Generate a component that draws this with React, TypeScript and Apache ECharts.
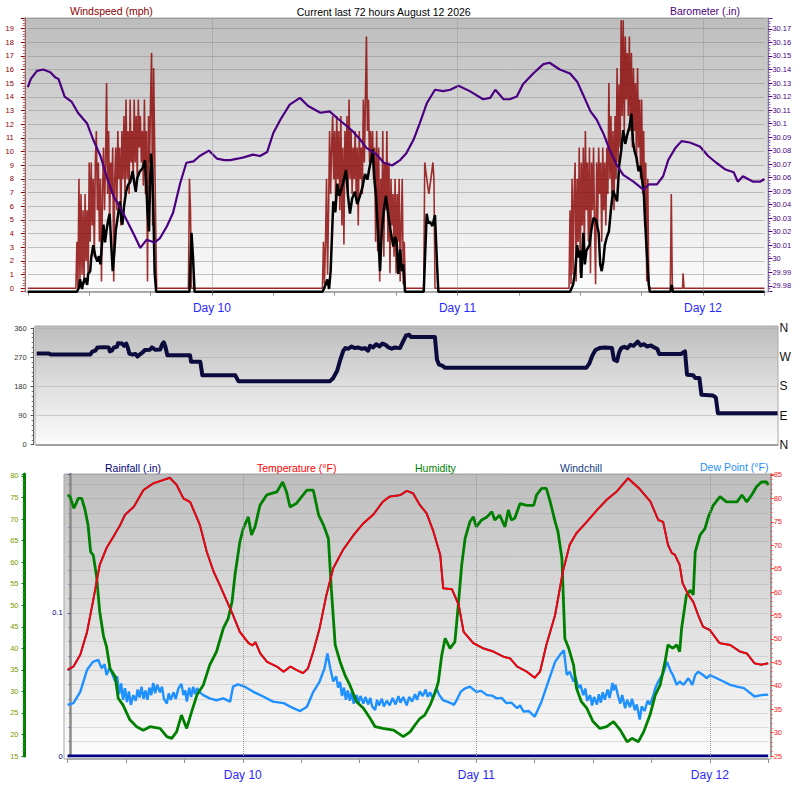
import React, { useEffect, useRef } from "react";
import * as echarts from "echarts";

type P = [number, number];

const chartTitle = "Current last 72 hours August 12 2026";
const topLeftTitle = "Windspeed (mph)";
const topRightTitle = "Barometer (.in)";
const bottomTitles = ["Rainfall (.in)", "Temperature (°F)", "Humidity", "Windchill", "Dew Point (°F)"];
const dayBoundaries = [18, 42, 66];
const dayLabels = ["Day 10", "Day 11", "Day 12"];
const compassLabels = ["N", "E", "S", "W", "N"];

const baroData: P[] = [
  [0, 30.127], [0.3, 30.133], [0.9, 30.139], [1.5, 30.14], [2.2, 30.138], [2.7, 30.134], [3.0, 30.133],
  [3.6, 30.12], [4.3, 30.116], [4.9, 30.108], [5.8, 30.1], [6.4, 30.088], [7.1, 30.076], [7.7, 30.061],
  [8.4, 30.046], [9.3, 30.034], [10.3, 30.019], [11.0, 30.008], [11.6, 30.014], [12.4, 30.012], [12.9, 30.015],
  [13.6, 30.024], [14.2, 30.034], [14.9, 30.056], [15.5, 30.071], [16.2, 30.072], [16.8, 30.076], [17.7, 30.08],
  [18.5, 30.074], [19.2, 30.073], [19.8, 30.073], [20.5, 30.074], [21.1, 30.075], [22.0, 30.077], [22.7, 30.076],
  [23.4, 30.079], [24.0, 30.093], [24.7, 30.103], [25.6, 30.114], [26.6, 30.119], [27.4, 30.113], [28.6, 30.108],
  [29.5, 30.109], [30.4, 30.103], [31.2, 30.098], [31.8, 30.094], [32.5, 30.088], [33.1, 30.082], [34.1, 30.077],
  [34.8, 30.071], [35.6, 30.069], [36.4, 30.073], [37.0, 30.078], [37.7, 30.088], [38.3, 30.1], [39.0, 30.115],
  [39.8, 30.125], [40.6, 30.124], [41.3, 30.125], [42.1, 30.128], [43.2, 30.124], [44.5, 30.118], [45.2, 30.119],
  [45.7, 30.125], [46.5, 30.118], [47.1, 30.118], [47.8, 30.12], [48.4, 30.129], [49.4, 30.137], [50.4, 30.144],
  [51.0, 30.145], [52.0, 30.14], [53.0, 30.137], [53.7, 30.131], [54.3, 30.121], [55.0, 30.109], [55.6, 30.103],
  [56.3, 30.092], [56.9, 30.08], [57.6, 30.069], [58.2, 30.062], [59.2, 30.057], [60.2, 30.051], [60.7, 30.055],
  [61.5, 30.055], [62.1, 30.061], [62.6, 30.073], [63.3, 30.082], [63.9, 30.087], [64.7, 30.086], [65.7, 30.083],
  [66.5, 30.076], [67.3, 30.071], [68.2, 30.066], [69.0, 30.064], [69.4, 30.057], [69.9, 30.061], [70.9, 30.057],
  [71.6, 30.057], [72.0, 30.059],
];

const gustData: P[] = [
  [0, 0], [4.7, 0], [4.8, 3.4], [4.9, 0], [5.0, 8.0], [5.1, 0.5], [5.2, 6.9], [5.3, 1.0], [5.4, 5.7], [5.5, 0.3],
  [5.6, 6.9], [5.7, 2.0], [5.8, 5.7], [5.9, 0.5], [6.0, 9.2], [6.1, 3.4], [6.2, 9.2], [6.3, 4.6], [6.4, 8.0],
  [6.5, 2.3], [6.6, 9.2], [6.7, 11.5], [6.8, 5.7], [6.9, 9.2], [7.0, 3.4], [7.1, 8.0], [7.2, 0.5], [7.3, 6.9],
  [7.4, 10.3], [7.5, 5.7], [7.6, 9.2], [7.7, 15.0], [7.8, 6.9], [7.9, 11.5], [8.0, 4.6], [8.1, 9.2], [8.2, 6.9],
  [8.3, 10.3], [8.4, 0.5], [8.5, 8.0], [8.6, 10.3], [8.7, 5.7], [8.8, 11.5], [8.9, 8.0], [9.0, 10.3], [9.1, 4.6],
  [9.2, 11.5], [9.3, 8.0], [9.4, 12.6], [9.5, 6.9], [9.6, 13.8], [9.7, 8.0], [9.8, 11.5], [9.9, 6.9], [10.0, 13.8],
  [10.1, 9.2], [10.2, 11.5], [10.3, 8.0], [10.4, 13.8], [10.5, 9.2], [10.6, 12.6], [10.7, 8.0], [10.8, 13.8],
  [10.9, 10.3], [11.0, 12.6], [11.1, 9.2], [11.2, 11.5], [11.3, 7.5], [11.4, 13.8], [11.5, 6.9], [11.6, 11.5],
  [11.7, 0.5], [11.8, 12.6], [11.9, 9.2], [12.0, 13.8], [12.1, 17.2], [12.2, 4.6], [12.3, 16.1], [12.4, 10.3],
  [12.5, 4.6], [12.6, 0], [15.7, 0], [15.8, 8.0], [15.9, 5.7], [16.0, 0],
  [28.8, 0], [28.9, 3.4], [29.0, 0.3], [29.1, 3.4], [29.2, 8.0], [29.3, 1.0], [29.4, 5.7], [29.5, 11.5], [29.6, 6.9],
  [29.7, 10.3], [29.8, 12.6], [29.9, 8.0], [30.0, 11.5], [30.1, 5.7], [30.2, 12.6], [30.3, 8.0], [30.4, 11.5],
  [30.5, 5.7], [30.6, 12.6], [30.7, 4.6], [30.8, 10.3], [30.9, 3.2], [31.0, 11.5], [31.1, 8.0], [31.2, 12.6],
  [31.3, 6.9], [31.4, 13.8], [31.5, 8.0], [31.6, 11.5], [31.7, 6.9], [31.8, 10.3], [31.9, 8.0], [32.0, 11.5],
  [32.1, 6.9], [32.2, 10.3], [32.3, 4.6], [32.4, 11.5], [32.5, 8.0], [32.6, 10.3], [32.7, 6.9], [32.8, 13.8],
  [32.9, 9.2], [33.0, 13.8], [33.1, 18.4], [33.2, 11.5], [33.3, 13.8], [33.4, 9.2], [33.5, 11.5], [33.6, 9.2],
  [33.7, 11.5], [33.8, 8.0], [33.9, 10.3], [34.0, 3.4], [34.1, 11.5], [34.2, 2.7], [34.3, 10.3], [34.4, 0.5],
  [34.5, 8.0], [34.6, 4.6], [34.7, 11.5], [34.8, 2.3], [34.9, 9.2], [35.0, 5.7], [35.1, 11.5], [35.2, 3.4],
  [35.3, 9.2], [35.4, 1.1], [35.5, 8.0], [35.6, 4.6], [35.7, 6.9], [35.8, 2.3], [35.9, 8.0], [36.0, 1.1],
  [36.1, 6.9], [36.2, 3.4], [36.3, 8.0], [36.4, 0.5], [36.5, 4.6], [36.6, 8.0], [36.7, 0.3], [36.8, 3.4], [36.9, 0],
  [38.7, 0], [38.8, 9.2], [39.0, 8.0], [39.2, 6.9], [39.4, 8.0], [39.6, 9.2], [39.7, 8.0], [39.8, 0],
  [52.9, 0], [53.0, 5.7], [53.1, 0.3], [53.2, 8.0], [53.3, 1.0], [53.4, 6.9], [53.5, 9.2], [53.6, 0.5], [53.7, 8.0],
  [53.8, 3.4], [53.9, 10.3], [54.0, 1.1], [54.1, 9.2], [54.2, 4.6], [54.3, 10.3], [54.4, 2.3], [54.5, 11.5],
  [54.6, 5.7], [54.7, 9.2], [54.8, 3.4], [54.9, 10.3], [55.0, 1.1], [55.1, 9.2], [55.2, 5.7], [55.3, 10.3],
  [55.4, 4.6], [55.5, 0.3], [55.6, 9.2], [55.7, 4.6], [55.8, 10.3], [55.9, 6.9], [56.0, 9.2], [56.1, 3.4],
  [56.2, 10.3], [56.3, 5.7], [56.4, 9.2], [56.5, 4.6], [56.6, 10.3], [56.7, 6.9], [56.8, 15.0], [56.9, 8.0],
  [57.0, 12.6], [57.1, 6.9], [57.2, 11.5], [57.3, 5.7], [57.4, 12.6], [57.5, 8.0], [57.6, 16.1], [57.7, 9.2],
  [57.8, 14.9], [57.9, 10.3], [58.0, 19.6], [58.1, 12.6], [58.2, 19.6], [58.3, 11.5], [58.4, 18.4], [58.5, 13.8],
  [58.6, 17.2], [58.7, 12.6], [58.8, 18.4], [58.9, 11.5], [59.0, 17.2], [59.1, 10.3], [59.2, 16.1], [59.3, 11.5],
  [59.4, 15.0], [59.5, 9.2], [59.6, 16.1], [59.7, 10.3], [59.8, 13.8], [59.9, 8.0], [60.0, 13.8], [60.1, 6.9],
  [60.2, 11.5], [60.3, 4.6], [60.4, 9.2], [60.5, 0.5], [60.6, 8.0], [60.7, 0.3], [60.8, 0],
  [62.8, 0], [62.9, 6.9], [63.0, 0], [64.0, 0], [64.05, 1.1], [64.15, 0], [72, 0],
];

const avgWindData: P[] = [
  [0, 0], [4.8, 0], [5.0, 0.3], [5.1, 0.9], [5.3, 0.2], [5.4, 0.6], [5.6, 1.0], [5.8, 0.5], [5.9, 1.3], [6.1, 1.5],
  [6.2, 2.5], [6.4, 3.4], [6.6, 2.6], [6.8, 2.2], [6.95, 2.6], [7.1, 2.0], [7.25, 3.5], [7.4, 4.9], [7.55, 3.6],
  [7.7, 4.5], [7.85, 5.2], [8.0, 5.7], [8.15, 3.5], [8.3, 1.5], [8.45, 2.8], [8.6, 4.5], [8.8, 5.5], [9.0, 6.6],
  [9.15, 5.2], [9.25, 4.9], [9.4, 6.2], [9.6, 7.3], [9.8, 7.8], [10.0, 8.0], [10.25, 8.8], [10.4, 8.0], [10.55, 7.3],
  [10.7, 8.3], [10.95, 8.8], [11.2, 9.0], [11.45, 9.6], [11.6, 7.5], [11.7, 5.8], [11.85, 4.4], [11.95, 8.0],
  [12.05, 10.1], [12.15, 9.0], [12.25, 6.7], [12.4, 1.4], [12.55, 0], [15.8, 0], [16.0, 4.3], [16.15, 2.5], [16.3, 0],
  [28.8, 0], [29.0, 0.3], [29.28, 0.9], [29.45, 0.2], [29.6, 1.5], [29.86, 6.6], [30.05, 5.8], [30.25, 7.9],
  [30.45, 7.0], [30.65, 7.5], [30.84, 8.0], [31.1, 8.9], [31.3, 7.0], [31.49, 5.7], [31.7, 6.8], [31.98, 7.3],
  [32.2, 6.4], [32.47, 7.0], [32.7, 7.6], [32.96, 8.6], [33.2, 8.2], [33.38, 9.0], [33.55, 9.6], [33.71, 10.4],
  [33.9, 8.0], [34.04, 7.0], [34.26, 4.0], [34.43, 1.5], [34.6, 4.4], [34.8, 6.0], [35.01, 7.0], [35.24, 5.6],
  [35.45, 4.5], [35.73, 3.3], [35.9, 4.0], [36.06, 3.6], [36.22, 1.3], [36.4, 3.1], [36.55, 1.5], [36.7, 2.0],
  [36.87, 0], [38.7, 0], [38.99, 5.7], [39.15, 5.0], [39.32, 5.1], [39.55, 4.8], [39.8, 5.6], [40.0, 2.0], [40.13, 0],
  [53.0, 0], [53.3, 0.5], [53.5, 1.5], [53.7, 3.4], [53.85, 2.5], [54.0, 3.0], [54.1, 1.0], [54.3, 4.3], [54.45, 2.0],
  [54.6, 3.0], [54.9, 3.4], [55.1, 4.6], [55.3, 5.4], [55.55, 5.2], [55.8, 4.3], [55.95, 2.0], [56.1, 1.5],
  [56.25, 2.2], [56.4, 3.4], [56.6, 4.0], [56.8, 4.4], [57.0, 6.0], [57.2, 7.4], [57.4, 7.0], [57.6, 6.6],
  [57.8, 9.2], [58.0, 10.3], [58.2, 11.8], [58.4, 10.8], [58.6, 11.5], [58.8, 12.0], [59.0, 13.0], [59.15, 11.0],
  [59.3, 10.3], [59.5, 9.8], [59.7, 8.8], [59.85, 9.2], [60.0, 8.4], [60.2, 7.4], [60.35, 5.0], [60.5, 2.9],
  [60.7, 0.5], [60.8, 0], [62.8, 0], [62.95, 0.5], [63.05, 0], [72, 0],
];

const directionData: P[] = [
  [0, 281], [1.2, 281], [1.4, 278], [5.2, 278], [5.4, 287], [5.7, 290], [5.9, 300], [6.6, 301], [7.0, 300],
  [7.1, 288], [7.3, 290], [7.5, 300], [7.8, 302], [7.9, 313], [8.3, 312], [8.5, 305], [8.7, 312], [8.85, 300],
  [9.0, 281], [9.3, 278], [9.6, 280], [9.8, 272], [10.0, 278], [10.3, 285], [10.5, 292], [11.0, 293], [11.2, 300],
  [11.5, 293], [12.0, 294], [12.2, 310], [12.35, 316], [12.5, 303], [12.7, 276], [14.9, 276], [15.0, 256],
  [15.9, 256], [16.1, 214], [19.3, 214], [19.6, 196], [28.5, 196], [28.8, 205], [29.2, 228], [29.5, 262],
  [29.8, 290], [30.0, 298], [30.3, 296], [30.6, 303], [30.9, 298], [31.2, 300], [31.6, 296], [31.9, 298],
  [32.2, 290], [32.4, 305], [32.7, 300], [33.0, 310], [33.3, 303], [33.6, 312], [33.9, 308], [34.2, 300],
  [34.5, 296], [34.8, 300], [35.0, 299], [35.3, 298], [35.6, 318], [35.9, 337], [36.2, 339], [36.4, 332],
  [38.7, 332], [38.9, 262], [39.1, 247], [39.4, 244], [39.7, 237], [53.4, 237], [53.7, 250], [54.0, 275],
  [54.3, 292], [54.7, 298], [55.2, 300], [55.9, 298], [56.1, 262], [56.4, 258], [56.6, 285], [56.8, 298],
  [57.1, 302], [57.4, 298], [57.7, 308], [58.0, 305], [58.4, 318], [58.7, 306], [59.0, 310], [59.3, 303],
  [59.7, 306], [60.0, 300], [60.3, 296], [60.5, 280], [62.6, 280], [62.8, 284], [63.0, 288], [63.2, 216],
  [63.8, 214], [64.0, 206], [64.4, 206], [64.6, 154], [65.7, 152], [66.0, 145], [66.2, 97], [72.0, 97],
];

const temperatureData: P[] = [
  [0, 43.4], [0.6, 44.1], [1.3, 46.6], [2.0, 51.5], [2.6, 57.9], [3.3, 65.8], [4.0, 69.4], [4.7, 71.8], [5.4, 74.3],
  [5.9, 76.5], [6.8, 78.2], [7.8, 81.8], [8.8, 83.2], [9.8, 83.9], [10.5, 84.4], [11.2, 82.9], [11.9, 80.0],
  [12.6, 79.2], [13.3, 75.8], [13.6, 74.3], [14.3, 68.6], [15.0, 64.4], [15.7, 61.2], [16.4, 57.9], [17.0, 55.1],
  [17.7, 51.5], [18.6, 49.1], [19.0, 48.6], [19.3, 49.3], [19.8, 46.9], [20.5, 45.1], [21.5, 44.1], [22.2, 43.0],
  [22.9, 44.1], [23.5, 43.4], [24.2, 42.7], [24.7, 43.7], [25.25, 47.3], [25.9, 52.3], [26.6, 59.4], [27.3, 65.1],
  [28.3, 69.0], [29.4, 72.2], [30.4, 74.7], [31.4, 76.5], [32.4, 79.3], [33.1, 80.4], [34.2, 80.7], [34.85, 81.6],
  [35.5, 81.1], [36.2, 78.6], [36.9, 76.8], [37.6, 72.9], [38.3, 67.9], [38.6, 60.8], [39.5, 60.6], [40.2, 57.2],
  [40.7, 51.5], [41.7, 49.1], [42.7, 48.0], [43.75, 47.3], [44.8, 46.2], [45.5, 45.8], [46.2, 44.1], [47.2, 43.0],
  [48.0, 41.7], [48.55, 43.0], [49.2, 48.7], [50.1, 55.1], [50.9, 64.4], [51.6, 70.1], [52.3, 72.6], [53.35, 75.0],
  [54.4, 77.5], [55.4, 79.7], [56.4, 81.4], [57.6, 84.3], [58.8, 82.0], [59.9, 79.3], [60.7, 75.4], [61.2, 75.0],
  [61.7, 70.1], [62.1, 68.3], [62.4, 68.0], [62.9, 65.8], [63.2, 61.9], [63.8, 59.4], [64.3, 57.9], [64.8, 55.1],
  [65.3, 52.6], [66.0, 51.9], [67.0, 49.1], [68.1, 48.7], [69.1, 47.3], [69.8, 46.9], [70.6, 44.8], [71.3, 44.5],
  [72.0, 44.8],
];

const windchillData: P[] = temperatureData;

const humidityData: P[] = [
  [0, 75.6], [0.25, 75.2], [0.65, 72.5], [1.1, 74.8], [1.45, 74.8], [1.8, 72.1], [2.1, 68.6], [2.37, 62.4],
  [2.64, 61.6], [2.98, 56.6], [3.3, 48.5], [3.7, 42.7], [4.0, 40.4], [4.36, 35.3], [4.9, 33.4], [5.2, 28.4],
  [5.7, 26.8], [6.4, 23.4], [7.1, 21.8], [7.78, 21.0], [8.46, 21.8], [9.5, 21.4], [10.2, 19.5], [10.7, 19.1],
  [11.2, 20.6], [11.7, 24.5], [12.24, 21.4], [12.75, 25.3], [13.3, 29.2], [13.95, 31.5], [14.6, 36.1],
  [15.3, 39.2], [16.0, 44.6], [16.5, 46.9], [16.9, 50.8], [17.2, 57.0], [17.5, 61.6], [17.7, 64.7], [18.05, 67.8],
  [18.57, 70.5], [18.9, 66.3], [19.26, 68.2], [19.77, 73.2], [20.46, 75.6], [21.5, 76.3], [22.1, 78.6],
  [22.5, 76.3], [22.86, 72.8], [23.5, 73.6], [24.06, 75.2], [24.6, 76.7], [25.25, 76.7], [25.8, 70.9],
  [26.3, 68.6], [26.8, 65.5], [27.1, 53.9], [27.5, 40.8], [28.0, 36.9], [28.5, 33.8], [29.0, 31.5], [29.7, 27.6],
  [30.4, 26.1], [31.1, 23.7], [31.6, 21.8], [32.4, 21.4], [33.5, 21.0], [34.5, 19.5], [35.2, 20.6], [35.7, 22.2],
  [36.2, 23.7], [36.7, 24.5], [37.25, 26.8], [37.8, 29.9], [38.1, 32.2], [38.45, 38.4], [38.8, 42.3], [39.3, 40.0],
  [39.8, 41.5], [40.15, 50.0], [40.5, 59.3], [40.85, 65.5], [41.35, 69.4], [41.7, 70.5], [42.0, 68.2],
  [42.55, 69.8], [43.1, 70.5], [43.6, 71.7], [43.9, 69.8], [44.4, 70.9], [44.95, 68.2], [45.3, 72.1], [45.6, 69.8],
  [45.95, 70.2], [46.5, 73.6], [47.2, 73.2], [47.9, 73.2], [48.2, 75.6], [48.7, 77.1], [49.2, 77.1], [49.6, 74.0],
  [50.1, 69.4], [50.4, 67.0], [50.8, 60.9], [51.1, 42.3], [51.5, 40.0], [52.0, 36.1], [52.3, 30.7], [52.8, 27.6],
  [53.35, 26.1], [54.0, 23.0], [54.7, 21.4], [55.4, 21.8], [56.1, 23.0], [56.8, 21.0], [57.5, 18.3], [58.0, 19.1],
  [58.65, 18.3], [59.2, 20.6], [59.85, 24.5], [60.4, 29.2], [60.9, 31.5], [61.4, 36.9], [61.7, 40.8], [62.2, 40.0],
  [62.6, 40.8], [62.9, 39.2], [63.1, 44.6], [63.6, 52.4], [64.0, 53.5], [64.3, 52.4], [64.5, 62.4], [65.0, 66.3],
  [65.5, 67.8], [65.85, 70.5], [66.35, 73.2], [67.05, 75.2], [67.7, 74.0], [68.8, 74.0], [69.3, 75.6], [69.8, 74.0],
  [70.3, 75.6], [70.8, 77.5], [71.3, 78.6], [71.85, 78.6], [72.0, 77.9],
];

const dewPointData: P[] = [
  [0, 35.9], [0.6, 36.3], [1.3, 38.7], [2.0, 43.4], [2.6, 45.1], [3.15, 45.5], [3.5, 43.7], [3.8, 44.6], [4.0, 42.3],
  [4.3, 43.8], [4.5, 43.0], [4.9, 40.9], [5.1, 42.0], [5.3, 38.2], [5.5, 40.5], [5.7, 37.0], [5.9, 39.5], [6.1, 36.5],
  [6.3, 38.8], [6.5, 35.9], [6.75, 38.0], [7.0, 36.8], [7.2, 39.2], [7.4, 37.5], [7.6, 39.8], [7.8, 37.2], [8.0, 39.0],
  [8.2, 37.0], [8.4, 39.6], [8.6, 38.0], [8.8, 40.6], [9.0, 38.4], [9.2, 40.2], [9.5, 38.6], [9.7, 39.8], [9.9, 37.2],
  [10.2, 36.2], [10.4, 38.4], [10.6, 37.0], [10.9, 38.6], [11.1, 37.2], [11.4, 39.5], [11.7, 40.4], [11.9, 38.0],
  [12.1, 39.0], [12.25, 36.6], [12.5, 39.6], [12.7, 37.6], [12.9, 39.8], [13.1, 38.2], [13.3, 39.5], [13.6, 38.6],
  [13.95, 38.0], [14.6, 37.3], [15.3, 36.9], [16.0, 37.3], [16.7, 36.6], [17.0, 39.8], [17.5, 40.3], [18.2, 39.8],
  [19.1, 38.7], [20.1, 37.7], [21.1, 36.6], [22.2, 36.3], [23.2, 35.2], [23.9, 34.6], [24.6, 35.5], [25.25, 38.7],
  [25.9, 40.9], [26.4, 43.7], [26.7, 46.9], [27.0, 43.7], [27.3, 40.9], [27.6, 42.0], [27.8, 39.6], [28.0, 40.8],
  [28.2, 37.8], [28.4, 39.6], [28.6, 37.0], [28.8, 39.0], [29.0, 36.8], [29.2, 38.6], [29.4, 36.2], [29.7, 38.0],
  [29.9, 36.4], [30.1, 37.8], [30.4, 36.2], [30.6, 37.6], [30.9, 36.0], [31.1, 37.4], [31.3, 35.6], [31.6, 34.8],
  [31.8, 37.0], [32.0, 35.8], [32.3, 37.2], [32.5, 35.6], [32.8, 36.8], [33.1, 35.8], [33.4, 37.4], [33.7, 36.0],
  [34.0, 37.8], [34.2, 36.4], [34.5, 37.6], [34.85, 35.8], [35.1, 37.6], [35.4, 36.6], [35.7, 38.2], [35.9, 37.0],
  [36.2, 38.8], [36.5, 37.8], [36.8, 39.2], [37.0, 37.6], [37.25, 38.6], [37.5, 37.4], [37.9, 39.5], [38.2, 38.0],
  [38.6, 36.9], [39.0, 36.6], [39.5, 36.2], [39.7, 35.9], [40.0, 37.0], [40.4, 38.7], [40.8, 39.4], [41.35, 39.8],
  [42.0, 38.7], [42.5, 38.9], [43.1, 38.0], [43.6, 37.9], [44.1, 37.3], [44.6, 37.4], [45.1, 36.3], [45.6, 36.4],
  [46.2, 35.2], [46.5, 35.8], [46.85, 34.5], [47.4, 34.6], [48.0, 33.4], [48.7, 36.6], [49.4, 40.9], [50.1, 45.1],
  [50.6, 46.6], [51.0, 47.6], [51.3, 42.3], [51.6, 43.0], [52.0, 40.9], [52.2, 41.8], [52.5, 39.5], [52.7, 40.2],
  [53.0, 38.0], [53.2, 39.4], [53.4, 36.8], [53.7, 38.0], [53.9, 35.8], [54.1, 37.6], [54.4, 36.0], [54.6, 38.2],
  [54.8, 36.4], [55.0, 38.6], [55.2, 37.0], [55.5, 39.2], [55.7, 37.4], [56.0, 40.6], [56.1, 39.0], [56.3, 40.2],
  [56.6, 37.6], [56.8, 36.2], [57.0, 38.0], [57.3, 35.2], [57.5, 37.0], [57.8, 35.4], [58.0, 37.2], [58.3, 34.8],
  [58.5, 36.0], [58.8, 32.8], [59.0, 35.6], [59.3, 34.6], [59.6, 36.8], [59.85, 36.0], [60.2, 38.0], [60.4, 39.5],
  [60.7, 40.9], [60.9, 41.6], [61.2, 42.6], [61.4, 43.8], [61.6, 45.1], [62.0, 43.0], [62.2, 42.3], [62.6, 40.2],
  [62.9, 40.9], [63.3, 40.2], [63.8, 41.6], [64.2, 40.2], [64.5, 42.3], [64.8, 43.0], [65.3, 42.3], [65.7, 41.6],
  [66.0, 42.3], [66.7, 41.6], [67.4, 40.9], [68.1, 40.2], [68.8, 39.8], [69.5, 39.5], [70.0, 38.7], [70.6, 37.7],
  [71.3, 38.0], [72.0, 38.1],
];

const rainfallData: P[] = [[0, 0], [72, 0]];

const FONT = '"Liberation Sans", Arial, sans-serif';

function dayLabel(v: number): string {
  const i = dayBoundaries.indexOf(v);
  return i >= 0 ? dayLabels[i] : "";
}

function panelBg(x: number, y: number, w: number, h: number) {
  return {
    type: "rect",
    z: -100,
    silent: true,
    shape: { x, y, width: w, height: h },
    style: {
      fill: new echarts.graphic.LinearGradient(0, 0, 0, 1, [
        { offset: 0, color: "#bdbdbd" },
        { offset: 0.5, color: "#dedede" },
        { offset: 1, color: "#fcfcfc" },
      ]),
      stroke: "#a9a9a9",
      lineWidth: 1,
    },
  };
}

function label(text: string, x: number, y: number, color: string, align: string = "left") {
  return {
    type: "text",
    z: 50,
    silent: true,
    x,
    y,
    style: { text, fill: color, fontSize: 10.5, fontFamily: FONT, align, verticalAlign: "middle" },
  };
}

const dayMarkLine = () => ({
  silent: true,
  symbol: ["none", "none"],
  label: { show: false },
  lineStyle: { color: "#9a9a9a", type: "dotted", width: 1 },
  emphasis: { disabled: true },
  data: dayBoundaries.map((d) => ({ xAxis: d })),
});

const hiddenLine = { show: false, lineStyle: { opacity: 0, width: 0 } };

const xAxisBase = (gridIndex: number, withLabels: boolean) => ({
  type: "value",
  gridIndex,
  min: 0,
  max: 72,
  interval: 6,
  offset: gridIndex === 2 ? 3 : 0,
  axisLine: { show: true, onZero: false, lineStyle: { color: "#a0a0a0", width: gridIndex === 1 ? 2 : 1.5 } },
  axisTick: { show: gridIndex === 0, inside: false, length: 4, lineStyle: { color: "#909090" } },
  axisLabel: {
    show: withLabels,
    formatter: dayLabel,
    color: "#2a2aff",
    fontSize: 12,
    fontFamily: FONT,
    margin: 10,
  },
  splitLine: hiddenLine,
  splitArea: { show: false },
  minorTick: { show: false },
  minorSplitLine: hiddenLine,
});

// tick-only axis for the bottom panel
const bottomTickAxis = {
  type: "value",
  gridIndex: 2,
  position: "bottom",
  min: 0,
  max: 72,
  interval: 6,
  offset: 3,
  axisLine: { show: false, onZero: false },
  axisTick: { show: true, inside: false, length: 4, lineStyle: { color: "#909090", width: 1 } },
  axisLabel: { show: false },
  splitLine: hiddenLine,
  splitArea: { show: false },
  minorTick: { show: false },
  minorSplitLine: hiddenLine,
};

const smallLabel = (color: string, margin: number, hideMin: boolean) => ({
  color,
  fontSize: 7.5,
  fontFamily: FONT,
  margin,
  showMinLabel: !hideMin,
  showMaxLabel: false,
});

const option: any = {
  animation: false,
  backgroundColor: "#ffffff",
  textStyle: { fontFamily: FONT },
  grid: [
    { left: 27.8, top: 18, width: 736.6, height: 273.7, containLabel: false, outerBoundsMode: "none" },
    { left: 36.7, top: 328, width: 740.9, height: 116.7, containLabel: false, outerBoundsMode: "none" },
    { left: 67.6, top: 474, width: 700.6, height: 282, containLabel: false, outerBoundsMode: "none" },
  ],
  xAxis: [xAxisBase(0, true), xAxisBase(1, false), xAxisBase(2, true), bottomTickAxis],
  yAxis: [
    {
      type: "value",
      gridIndex: 0,
      position: "left",
      offset: 3,
      min: -0.249,
      max: 19.76,
      splitNumber: 20,
      axisLine: { show: true, onZero: false, lineStyle: { color: "#a06060", width: 1 } },
      axisTick: { show: true, length: 4, lineStyle: { color: "#8b0000" } },
      minorTick: { show: true, splitNumber: 5, length: 2, lineStyle: { color: "#b06060" } },
      axisLabel: smallLabel("#8b0000", 11, true),
      splitLine: { show: true, lineStyle: { color: "rgba(130,130,130,0.45)", width: 1 } },
    },
    {
      type: "value",
      gridIndex: 0,
      position: "right",
      offset: 4,
      min: 29.9756,
      max: 30.1781,
      splitNumber: 20,
      axisLine: { show: true, onZero: false, lineStyle: { color: "#8a70b0", width: 1 } },
      axisTick: { show: true, length: 4, lineStyle: { color: "#4b0082" } },
      minorTick: { show: true, splitNumber: 5, length: 2, lineStyle: { color: "#8060b0" } },
      axisLabel: smallLabel("#4b0082", 4, true),
      splitLine: { show: false },
    },
    { type: "value", gridIndex: 0, show: false, min: 0, max: 20 },
    {
      type: "value",
      gridIndex: 1,
      position: "left",
      offset: 3,
      min: 0,
      max: 360,
      interval: 90,
      axisLine: { show: true, onZero: false, lineStyle: { color: "#606060", width: 1 } },
      axisTick: { show: true, length: 3, lineStyle: { color: "#505050" } },
      minorTick: { show: true, splitNumber: 6, length: 2, lineStyle: { color: "#707070" } },
      axisLabel: { color: "#333", fontSize: 7.5, fontFamily: FONT, margin: 7 },
      splitLine: { show: true, lineStyle: { color: "#a8a8a8", type: "dotted", width: 1 } },
    },
    {
      type: "value",
      gridIndex: 1,
      position: "right",
      min: 0,
      max: 360,
      interval: 90,
      axisLine: { show: false, onZero: false },
      axisTick: { show: false },
      axisLabel: {
        color: "#111",
        fontSize: 12,
        fontFamily: FONT,
        margin: 2,
        formatter: (v: number) => compassLabels[Math.round(v / 90)] ?? "",
      },
      splitLine: { show: false },
    },
    {
      type: "value",
      gridIndex: 2,
      position: "left",
      offset: -3,
      min: 0,
      max: 0.1972,
      interval: 0.1,
      axisLine: { show: true, onZero: false, lineStyle: { color: "#8a8a8a", width: 2.5 } },
      axisTick: { show: true, length: 3, lineStyle: { color: "#5a5a99" } },
      minorTick: { show: true, splitNumber: 10, length: 2, lineStyle: { color: "#7a7aaa" } },
      minorSplitLine: { show: true, lineStyle: { color: "rgba(130,130,130,0.45)", type: "dotted", width: 1 } },
      axisLabel: smallLabel("#000080", 8, false),
      splitLine: { show: true, lineStyle: { color: "rgba(130,130,130,0.45)", type: "dotted", width: 1 } },
    },
    {
      type: "value",
      gridIndex: 2,
      position: "left",
      offset: 43.1,
      min: 15,
      max: 80.46,
      splitNumber: 13,
      axisLine: { show: true, onZero: false, lineStyle: { color: "#008000", width: 3 } },
      axisTick: { show: true, length: 3, lineStyle: { color: "#008000" } },
      minorTick: { show: true, splitNumber: 5, length: 2, lineStyle: { color: "#40a040" } },
      axisLabel: smallLabel("#7a9a00", 6, false),
      splitLine: { show: false },
    },
    {
      type: "value",
      gridIndex: 2,
      position: "right",
      offset: 2.5,
      min: 25,
      max: 85.21,
      splitNumber: 12,
      axisLine: { show: true, onZero: false, lineStyle: { color: "#9a9a9a", width: 2 } },
      axisTick: { show: true, length: 3, lineStyle: { color: "#ff3030" } },
      minorTick: { show: true, splitNumber: 5, length: 2, lineStyle: { color: "#ff6060" } },
      axisLabel: smallLabel("#ff2020", 3, false),
      splitLine: { show: false },
    },
  ],
  graphic: [
    panelBg(25, 18, 743, 274),
    panelBg(35, 326, 743, 119),
    panelBg(64, 474, 707, 285),
    label(chartTitle, 383.7, 11.5, "#000000", "center"),
    label(topLeftTitle, 70, 10.5, "#8b0000"),
    label(topRightTitle, 670, 10.5, "#4b0082"),
    label(bottomTitles[0], 105, 468, "#000080"),
    label(bottomTitles[1], 257, 468, "#ff0000"),
    label(bottomTitles[2], 415, 468, "#008000"),
    label(bottomTitles[3], 560, 468, "#123a80"),
    label(bottomTitles[4], 700, 467, "#1e90ff"),
  ],
  series: [
    {
      name: "Wind gust",
      type: "line",
      xAxisIndex: 0,
      yAxisIndex: 0,
      data: gustData,
      symbol: "none",
      silent: true,
      z: 2,
      lineStyle: { color: "#8b0000", width: 1.6, opacity: 0.8 },
      markLine: dayMarkLine(),
    },
    {
      name: "Windspeed",
      type: "line",
      xAxisIndex: 0,
      yAxisIndex: 2,
      data: avgWindData,
      symbol: "none",
      silent: true,
      z: 3,
      lineStyle: { color: "#000000", width: 2.5 },
    },
    {
      name: "Barometer",
      type: "line",
      xAxisIndex: 0,
      yAxisIndex: 1,
      data: baroData,
      symbol: "none",
      silent: true,
      z: 4,
      lineStyle: { color: "#4b0082", width: 2.2 },
    },
    {
      name: "Wind direction",
      type: "line",
      xAxisIndex: 1,
      yAxisIndex: 3,
      data: directionData,
      symbol: "none",
      silent: true,
      z: 3,
      lineStyle: { color: "#0b0b3d", width: 4, join: "round" },
    },
    {
      name: "Rainfall",
      type: "line",
      xAxisIndex: 2,
      yAxisIndex: 5,
      data: rainfallData,
      symbol: "none",
      silent: true,
      z: 2,
      lineStyle: { color: "#000080", width: 3 },
    },
    {
      name: "Dew Point",
      type: "line",
      xAxisIndex: 2,
      yAxisIndex: 7,
      data: dewPointData,
      symbol: "none",
      silent: true,
      z: 3,
      lineStyle: { color: "#1e90ff", width: 2.4 },
      markLine: dayMarkLine(),
    },
    {
      name: "Humidity",
      type: "line",
      xAxisIndex: 2,
      yAxisIndex: 6,
      data: humidityData,
      symbol: "none",
      silent: true,
      z: 4,
      lineStyle: { color: "#008000", width: 2.8 },
    },
    {
      name: "Windchill",
      type: "line",
      xAxisIndex: 2,
      yAxisIndex: 7,
      data: windchillData,
      symbol: "none",
      silent: true,
      z: 5,
      lineStyle: { color: "#123a80", width: 2 },
    },
    {
      name: "Temperature",
      type: "line",
      xAxisIndex: 2,
      yAxisIndex: 7,
      data: temperatureData,
      symbol: "none",
      silent: true,
      z: 6,
      lineStyle: { color: "#ff0000", width: 1.8 },
    },
  ],
};

export default function App() {
  const ref = useRef<HTMLDivElement>(null);
  useEffect(() => {
    if (!ref.current) return;
    const chart = echarts.init(ref.current, null, { renderer: "svg" });
    chart.setOption(option);
    return () => chart.dispose();
  }, []);
  return (
    <div
      ref={ref}
      style={{ position: "fixed", left: 0, top: 0, width: 800, height: 799, background: "#fff" }}
    />
  );
}
